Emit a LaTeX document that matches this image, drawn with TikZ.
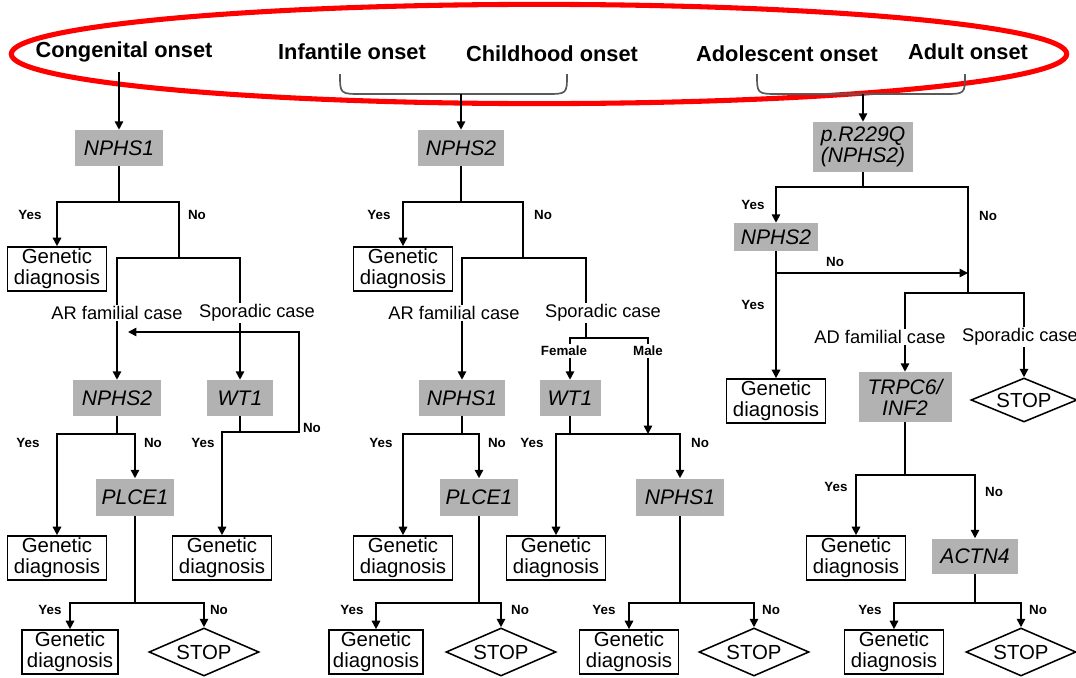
\documentclass[tikz,border=0pt]{standalone}
\usepackage{fontspec}
\setmainfont{Liberation Sans}
\usepackage{tikz}
\usetikzlibrary{positioning, shapes.geometric, arrows.meta}

\newcommand{\onsetfont}{\fontsize{15.5}{18}\selectfont\bfseries}
\newcommand{\diagfont}{\fontsize{14.5}{15}\selectfont}
\newcommand{\genefont}{\fontsize{15}{15}\selectfont\itshape}
\newcommand{\casefont}{\fontsize{13}{15}\selectfont}
\newcommand{\ynfont}{\fontsize{9.5}{11}\selectfont\bfseries}

\begin{document}
\begin{tikzpicture}[
    x=0.025cm, y=-0.025cm,
    onset/.style={font=\onsetfont, inner sep=1pt},
    gene/.style={fill=gray!60, font=\genefont, align=center, minimum height=0.9cm, inner sep=1pt},
    diag/.style={draw, line width=1.2pt, font=\diagfont, align=center, minimum width=2.475cm, minimum height=1.1cm, inner sep=1pt},
    stopbox/.style={draw, diamond, line width=1.1pt, font=\diagfont, aspect=2.3, minimum width=2.75cm, minimum height=1.2cm, inner sep=0pt},
    case/.style={font=\casefont, inner sep=1pt},
    yn/.style={font=\ynfont, inner sep=1pt},
    line/.style={line width=1.2pt},
    arrow/.style={line, -{Triangle[length=6pt,width=6pt]}},
    brace/.style={line width=1.2pt, draw=black!65}
]
\useasboundingbox (0,0) rectangle (1076,677);

\node[onset] (cong) at (124,52) {Congenital onset};
\node[onset] (inf) at (352,52) {Infantile onset};
\node[onset] (child) at (552,54) {Childhood onset};
\node[onset] (adol) at (787,54) {Adolescent onset};
\node[onset] (adult) at (968,52) {Adult onset};
\draw[red, line width=3.6pt] (539,54) ellipse [x radius=13.19cm, y radius=1.24cm];

\draw[brace] (340,74) .. controls (340,94) .. (362,94) -- (546,94) .. controls (567,94) .. (567,74);
\draw[brace] (757,74) .. controls (757,94) .. (779,94) -- (944,94) .. controls (965,94) .. (965,74);
\coordinate (c0) at (119,72);
\coordinate (br1) at (461,94);
\coordinate (br2) at (863,94);

% congenital
\node[gene, minimum width=2.175cm] (nphs1a) at (119,148) {NPHS1};
\node[diag] (gda1) at (57,269) {Genetic\\diagnosis};
\node[case] (ara) at (117,313) {AR familial case};
\node[case] (spa) at (257,313) {Sporadic case};
\node[gene, minimum width=2.2cm] (nphs2a) at (117,398) {NPHS2};
\node[gene, minimum width=1.65cm] (wt1a) at (240,398) {WT1};
\node[gene, minimum width=1.925cm, minimum height=0.925cm] (plce1a) at (135,497) {PLCE1};
\node[diag] (gda2) at (57,558) {Genetic\\diagnosis};
\node[diag] (gda3) at (222,558) {Genetic\\diagnosis};
\node[diag, minimum width=2.4cm] (gda4) at (70,652) {Genetic\\diagnosis};
\node[stopbox] (stopa) at (204,652) {STOP};

\coordinate (ja1) at (119,202);
\coordinate (ja2) at (179,258);
\coordinate (jw) at (240,432);
\coordinate (fb) at (299,332);
\coordinate (fbend) at (128,332);
\coordinate (ja3) at (117,434);
\coordinate (ja4) at (135,603);

\draw[arrow] (c0) -- (nphs1a);
\draw[line] (nphs1a) -- (ja1);
\draw[arrow] (ja1) -| (gda1);
\draw[line] (ja1) -| (ja2);
\draw[line] (ja2) -| (ara);
\draw[line] (ja2) -| (spa.north -| wt1a);
\draw[arrow] (ara) -- (nphs2a);
\draw[arrow] (spa.south -| wt1a) -- (wt1a);
\draw[line] (wt1a) -- (jw);
\draw[arrow] (jw) -| (fb) -- (fbend);
\draw[arrow] (jw) -| (gda3);
\draw[line] (nphs2a) -- (ja3);
\draw[arrow] (ja3) -| (gda2);
\draw[arrow] (ja3) -| (plce1a);
\draw[line] (plce1a) -- (ja4);
\draw[arrow] (ja4) -| (gda4);
\draw[arrow] (ja4) -| (stopa);

\node[yn] (ya1) at (30,215) {Yes};
\node[yn] (na1) at (197,215) {No};
\node[yn] (ya2) at (28,443) {Yes};
\node[yn] (na2) at (153,443) {No};
\node[yn] (ya3) at (203,443) {Yes};
\node[yn] (na3) at (312,428) {No};
\node[yn] (ya4) at (50,610) {Yes};
\node[yn] (na4) at (219,610) {No};

% infantile / childhood
\node[gene, minimum width=2.125cm] (nphs2b) at (461,148) {NPHS2};
\node[diag] (gdb1) at (403,269) {Genetic\\diagnosis};
\node[case] (arb) at (454,313) {AR familial case};
\node[case] (spb) at (603,313) {Sporadic case};
\node[yn] (fem) at (564,351) {Female};
\node[yn] (male) at (648,351) {Male};
\node[gene, minimum width=2.125cm] (nphs1b) at (462,398) {NPHS1};
\node[gene, minimum width=1.525cm] (wt1b) at (570,398) {WT1};
\node[gene, minimum width=1.925cm, minimum height=0.925cm] (plce1b) at (479,497) {PLCE1};
\node[gene, minimum width=2.175cm, minimum height=0.925cm] (nphs1c) at (680,497) {NPHS1};
\node[diag] (gdb2) at (403,558) {Genetic\\diagnosis};
\node[diag] (gdb3) at (556,558) {Genetic\\diagnosis};
\node[diag, minimum width=2.35cm] (gdb4) at (376,652) {Genetic\\diagnosis};
\node[stopbox] (stopb) at (501,652) {STOP};
\node[diag] (gdb5) at (629,652) {Genetic\\diagnosis};
\node[stopbox] (stopc) at (754,652) {STOP};

\coordinate (jb1) at (461,202);
\coordinate (jb2) at (523,258);
\coordinate (jb3) at (586,338);
\coordinate (jb4) at (648,434);
\coordinate (jb5) at (570,434);
\coordinate (jb6) at (462,434);
\coordinate (jb7) at (479,603);
\coordinate (jb8) at (680,603);

\draw[arrow] (br1) -- (nphs2b);
\draw[line] (nphs2b) -- (jb1);
\draw[arrow] (jb1) -| (gdb1);
\draw[line] (jb1) -| (jb2);
\draw[line] (jb2) -| (arb.north -| nphs1b);
\draw[line] (jb2) -| (spb.north -| jb3);
\draw[arrow] (arb.south -| nphs1b) -- (nphs1b);
\draw[line] (spb.south -| jb3) -- (jb3);
\draw[line] (jb3) -| (fem.north -| wt1b);
\draw[line] (jb3) -| (male.north);
\draw[arrow] (fem.south -| wt1b) -- (wt1b);
\draw[arrow] (male) -- (jb4);
\draw[line] (wt1b) -- (jb5);
\draw[arrow] (jb5) -| (gdb3);
\draw[arrow] (jb5) -| (nphs1c);
\draw[line] (nphs1b) -- (jb6);
\draw[arrow] (jb6) -| (gdb2);
\draw[arrow] (jb6) -| (plce1b);
\draw[line] (plce1b) -- (jb7);
\draw[arrow] (jb7) -| (gdb4);
\draw[arrow] (jb7) -| (stopb);
\draw[line] (nphs1c) -- (jb8);
\draw[arrow] (jb8) -| (gdb5);
\draw[arrow] (jb8) -| (stopc);

\node[yn] (yb1) at (379,215) {Yes};
\node[yn] (nb1) at (543,215) {No};
\node[yn] (yb2) at (381,443) {Yes};
\node[yn] (nb2) at (497,443) {No};
\node[yn] (yb3) at (532,443) {Yes};
\node[yn] (nb3) at (700,443) {No};
\node[yn] (yb4) at (352,610) {Yes};
\node[yn] (nb4) at (520,610) {No};
\node[yn] (yb5) at (604,610) {Yes};
\node[yn] (nb5) at (771,610) {No};

% adolescent / adult
\node[gene, minimum width=2.5cm, minimum height=1.25cm] (pr) at (863,147) {p.R229Q\\(NPHS2)};
\node[gene, minimum width=2.1cm, minimum height=0.7cm] (nphs2r) at (776,237) {NPHS2};
\node[diag] (gdr1) at (776,401) {Genetic\\diagnosis};
\node[case] (adr) at (880,337) {AD familial case};
\node[case] (spr) at (1020,337) {Sporadic case};
\node[gene, minimum width=2.325cm, minimum height=1.25cm] (trpc) at (905,397) {TRPC6/\\INF2};
\node[stopbox, minimum width=2.65cm, minimum height=1.1cm] (stopr1) at (1024,400) {STOP};
\node[diag] (gdr2) at (856,558) {Genetic\\diagnosis};
\node[gene, minimum width=2.15cm, minimum height=0.875cm] (actn4) at (975,556) {ACTN4};
\node[diag] (gdr3) at (894,652) {Genetic\\diagnosis};
\node[stopbox] (stopr2) at (1021,652) {STOP};

\coordinate (jr1) at (863,187);
\coordinate (jr2) at (968,293);
\coordinate (jr3) at (776,273);
\coordinate (jr4) at (968,273);
\coordinate (jr5) at (905,475);
\coordinate (jr6) at (975,603);

\draw[arrow] (br2) -- (pr);
\draw[line] (pr) -- (jr1);
\draw[arrow] (jr1) -| (nphs2r);
\draw[line] (jr1) -| (jr2);
\draw[arrow] (nphs2r) -- (gdr1);
\draw[arrow] (jr3) -- (jr4);
\draw[line] (jr2) -| (adr.north -| trpc);
\draw[line] (jr2) -| (spr.north -| stopr1);
\draw[arrow] (adr.south -| trpc) -- (trpc);
\draw[arrow] (spr.south -| stopr1) -- (stopr1);
\draw[line] (trpc) -- (jr5);
\draw[arrow] (jr5) -| (gdr2);
\draw[arrow] (jr5) -| (actn4);
\draw[line] (actn4) -- (jr6);
\draw[arrow] (jr6) -| (gdr3);
\draw[arrow] (jr6) -| (stopr2);

\node[yn] (yr1) at (753,205) {Yes};
\node[yn] (nr1) at (988,216) {No};
\node[yn] (nr2) at (835,262) {No};
\node[yn] (yr2) at (753,305) {Yes};
\node[yn] (yr3) at (836,487) {Yes};
\node[yn] (nr3) at (994,492) {No};
\node[yn] (yr4) at (870,610) {Yes};
\node[yn] (nr4) at (1038,610) {No};
\end{tikzpicture}
\end{document}
